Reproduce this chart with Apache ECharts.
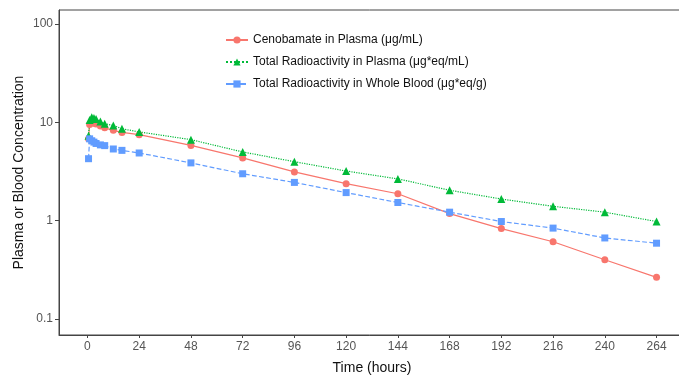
<!DOCTYPE html>
<html><head><meta charset="utf-8">
<script src="https://cdn.jsdelivr.net/npm/echarts@6/dist/echarts.min.js"></script>
<style>html,body{margin:0;padding:0;background:#fff}#c{width:679px;height:376px}</style>
</head><body><div id="c"></div>
<script>
const times = [0.5, 1, 2, 3, 4, 6, 8, 12, 16, 24, 48, 72, 96, 120, 144, 168, 192, 216, 240, 264];
const cenobamatePlasma = [6.8, 9.5, 10.0, 9.8, 9.6, 9.2, 8.8, 8.3, 7.9, 7.5, 5.83, 4.35, 3.13, 2.38, 1.88, 1.18, 0.83, 0.61, 0.40, 0.265];
const totalRadioPlasma = [7.3, 10.6, 11.3, 11.1, 10.8, 10.2, 9.7, 9.3, 8.6, 8.0, 6.67, 5.0, 3.98, 3.2, 2.66, 2.04, 1.66, 1.40, 1.22, 0.98];
const totalRadioBlood = [4.27, 6.8, 6.5, 6.3, 6.1, 5.9, 5.8, 5.36, 5.19, 4.88, 3.87, 3.0, 2.45, 1.93, 1.53, 1.22, 0.98, 0.84, 0.667, 0.59];
const xTicks = [0, 24, 48, 72, 96, 120, 144, 168, 192, 216, 240, 264];
const yTicks = [0.1, 1, 10, 100];
const seriesNames = ['Cenobamate in Plasma (μg/mL)', 'Total Radioactivity in Plasma (μg*eq/mL)', 'Total Radioactivity in Whole Blood (μg*eq/g)'];

const pairs = vals => times.map((t, i) => [t, vals[i]]);
const font = 'Liberation Sans, Arial, sans-serif';
const chart = echarts.init(document.getElementById('c'), null, {renderer: 'canvas'});
chart.setOption({
  animation: false,
  grid: {left: 59, top: 10, width: 626, height: 325, outerBoundsMode: 'none', containLabel: false,
    show: true, borderColor: '#444', borderWidth: 1, backgroundColor: 'transparent'},
  legend: {
    orient: 'vertical', left: 220, top: 29, itemWidth: 22, itemHeight: 9, itemGap: 10,
    textStyle: {fontFamily: font, fontSize: 12, color: '#111'},
    data: seriesNames
  },
  xAxis: {
    type: 'value', min: -13.2, max: 277.2,
    name: 'Time (hours)', nameLocation: 'middle', nameGap: 26,
    nameTextStyle: {fontFamily: font, fontSize: 14, color: '#111'},
    axisLine: {show: true, onZero: false, lineStyle: {color: '#444'}},
    axisTick: {show: true, length: 3, lineStyle: {color: '#444'}, customValues: xTicks},
    axisLabel: {fontFamily: font, fontSize: 12, color: '#555', margin: 6, customValues: xTicks},
    splitLine: {show: false}
  },
  yAxis: {
    type: 'log', logBase: 10, min: 0.0687, max: 139,
    name: 'Plasma or Blood Concentration', nameLocation: 'middle', nameGap: 33, nameMoveOverlap: false,
    nameTextStyle: {fontFamily: font, fontSize: 14, color: '#111'},
    axisLine: {show: true, onZero: false, lineStyle: {color: '#444'}},
    axisTick: {show: true, length: 4, lineStyle: {color: '#444'}, customValues: yTicks},
    axisLabel: {fontFamily: font, fontSize: 12, color: '#555', margin: 6, customValues: yTicks,
      formatter: v => String(v)},
    splitLine: {show: false}
  },
  series: [
    {name: seriesNames[0], type: 'line', data: pairs(cenobamatePlasma), symbol: 'circle', symbolSize: 7,
      itemStyle: {color: '#F8766D'}, lineStyle: {color: '#F8766D', width: 1.2, type: 'solid'}},
    {name: seriesNames[1], type: 'line', data: pairs(totalRadioPlasma), symbol: 'triangle', symbolSize: 8,
      itemStyle: {color: '#00BA38'}, lineStyle: {color: '#00BA38', width: 1.2, type: 'dotted'}},
    {name: seriesNames[2], type: 'line', data: pairs(totalRadioBlood), symbol: 'rect', symbolSize: 7,
      itemStyle: {color: '#619CFF'}, lineStyle: {color: '#619CFF', width: 1.2, type: 'dashed'}}
  ]
});
</script></body></html>
